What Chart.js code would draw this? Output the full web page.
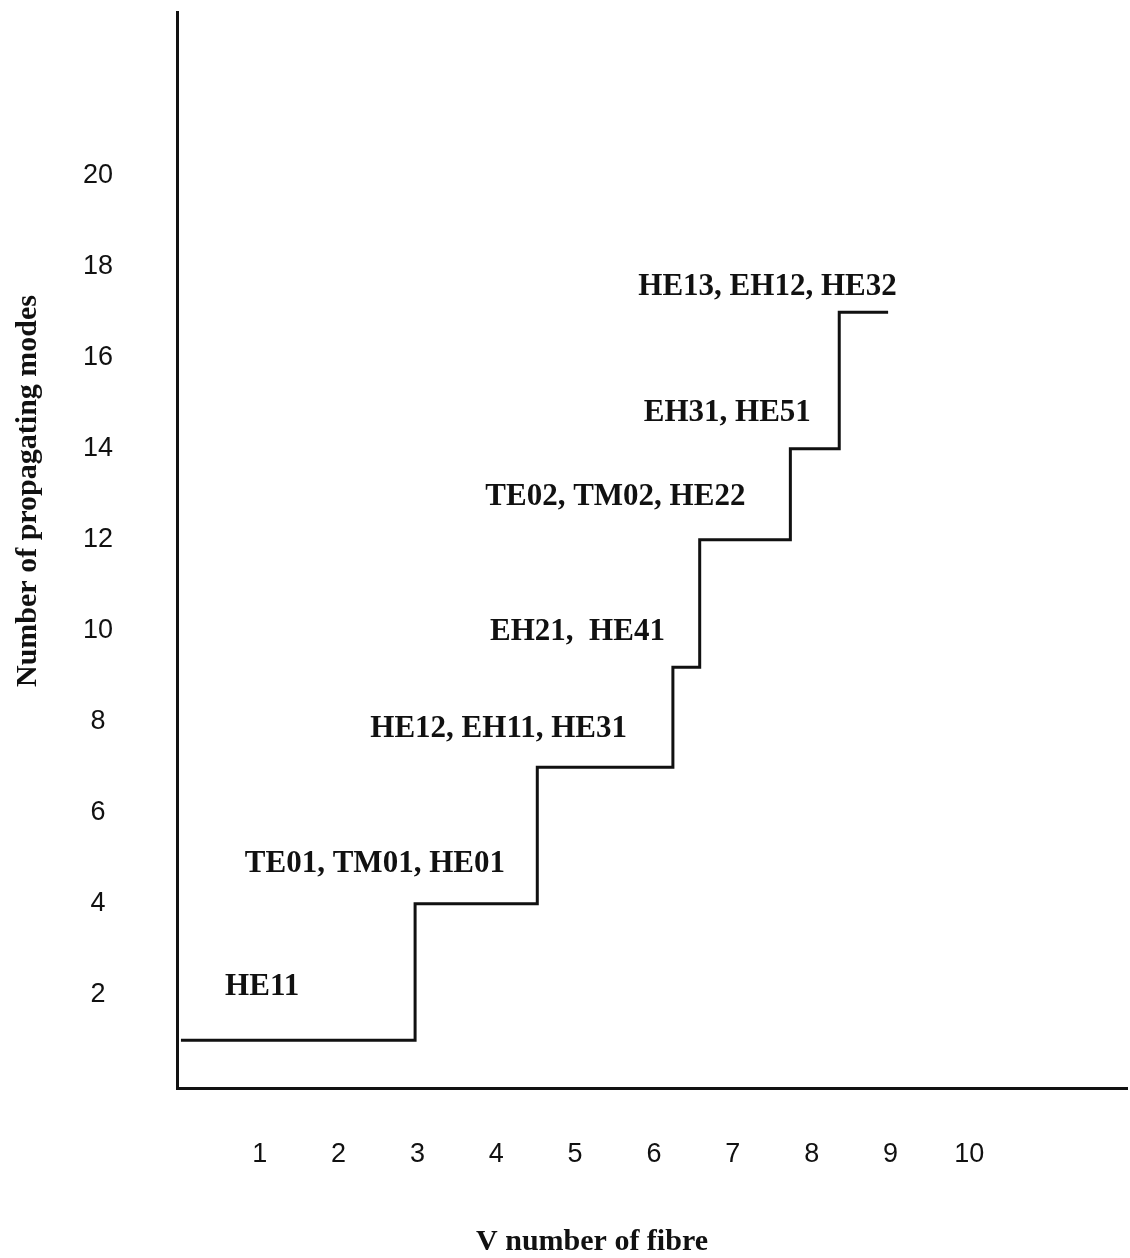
<!DOCTYPE html>
<html>
<head>
<meta charset="utf-8">
<script src="https://cdn.jsdelivr.net/npm/chart.js@4.4.1/dist/chart.umd.min.js"></script>
<style>
  html, body { margin: 0; padding: 0; background: #fff; }
  #wrap { width: 1130px; height: 1258px; }
</style>
</head>
<body>
<div id="wrap"><canvas id="chart-modes" width="1130" height="1258"></canvas></div>
<script>
// step corners: V value where the count changes, and the mode count from there on
const stepV = [0, 2.97, 4.52, 6.24, 6.58, 7.73, 8.35, 8.97];
const modeCount = [1, 4, 7, 9.2, 12, 14, 17, 17];

// mode-group labels and where they sit (data units)
const modeLabels = ['HE11', 'TE01, TM01, HE01', 'HE12, EH11, HE31', 'EH21,  HE41',
                    'TE02, TM02, HE22', 'EH31, HE51', 'HE13, EH12, HE32'];
const labelV = [1.03, 2.46, 4.03, 5.03, 5.51, 6.93, 7.44];
const labelN = [2.18, 4.88, 7.85, 9.98, 12.95, 14.79, 17.56];

const xTicks = [1, 2, 3, 4, 5, 6, 7, 8, 9, 10];
const yTicks = [2, 4, 6, 8, 10, 12, 14, 16, 18, 20];

const xTitle = 'V number of fibre';
const yTitle = 'Number of propagating modes';

const serif = '"Liberation Serif", "Times New Roman", serif';
const sans = '"Liberation Sans", Arial, sans-serif';

const textPlugin = {
    id: 'textPlugin',
    beforeDraw(chart) {
        const c = chart.ctx;
        c.save();
        c.fillStyle = '#fff';
        c.fillRect(0, 0, chart.width, chart.height);
        c.restore();
    },
    afterDraw(chart) {
        const c = chart.ctx;
        const xs = chart.scales.x, ys = chart.scales.y;
        c.save();
        c.fillStyle = '#111';
        c.font = 'bold 31px ' + serif;
        c.textAlign = 'center';
        c.textBaseline = 'middle';
        modeLabels.forEach((t, i) => {
            c.fillText(t, xs.getPixelForValue(labelV[i]), ys.getPixelForValue(labelN[i]));
        });

        // axis titles
        c.font = 'bold 30px ' + serif;
        c.textBaseline = 'alphabetic';
        c.fillText(xTitle, 592, 1250);
        c.translate(36, 491);
        c.rotate(-Math.PI / 2);
        c.fillText(yTitle, 0, 0);
        c.restore();
    }
};

new Chart(document.getElementById('chart-modes').getContext('2d'), {
    type: 'scatter',
    data: {
        datasets: [{
            data: stepV.map((v, i) => ({ x: v, y: modeCount[i] })),
            showLine: true,
            stepped: true,
            borderColor: '#111',
            borderWidth: 3,
            pointRadius: 0,
            fill: false
        }]
    },
    options: {
        responsive: false,
        devicePixelRatio: 1,
        animation: false,
        layout: { padding: { top: 12, right: 3, left: 0, bottom: 0 } },
        plugins: {
            legend: { display: false },
            tooltip: { enabled: false }
        },
        scales: {
            x: {
                type: 'linear',
                min: -0.05,
                max: 12,
                grid: { display: false, drawTicks: false },
                border: { display: true, color: '#111', width: 3 },
                afterBuildTicks: s => { s.ticks = xTicks.map(v => ({ value: v })); },
                afterFit: s => {
                    s.height = 170;
                    s.paddingLeft = 0;
                    s.paddingRight = 0;
                },
                ticks: {
                    autoSkip: false,
                    maxRotation: 0,
                    padding: 50,
                    color: '#111',
                    font: { family: sans, size: 27 },
                    callback: v => String(v)
                }
            },
            y: {
                type: 'linear',
                min: -0.05,
                max: 23.6,
                grid: { display: false, drawTicks: false },
                border: { display: true, color: '#111', width: 3 },
                afterBuildTicks: s => { s.ticks = yTicks.map(v => ({ value: v })); },
                afterFit: s => {
                    s.width = 177;
                    s.paddingTop = 0;
                    s.paddingBottom = 0;
                },
                ticks: {
                    autoSkip: false,
                    crossAlign: 'center',
                    padding: 64,
                    color: '#111',
                    font: { family: sans, size: 27 },
                    callback: v => String(v)
                }
            }
        }
    },
    plugins: [textPlugin]
});
</script>
</body>
</html>
